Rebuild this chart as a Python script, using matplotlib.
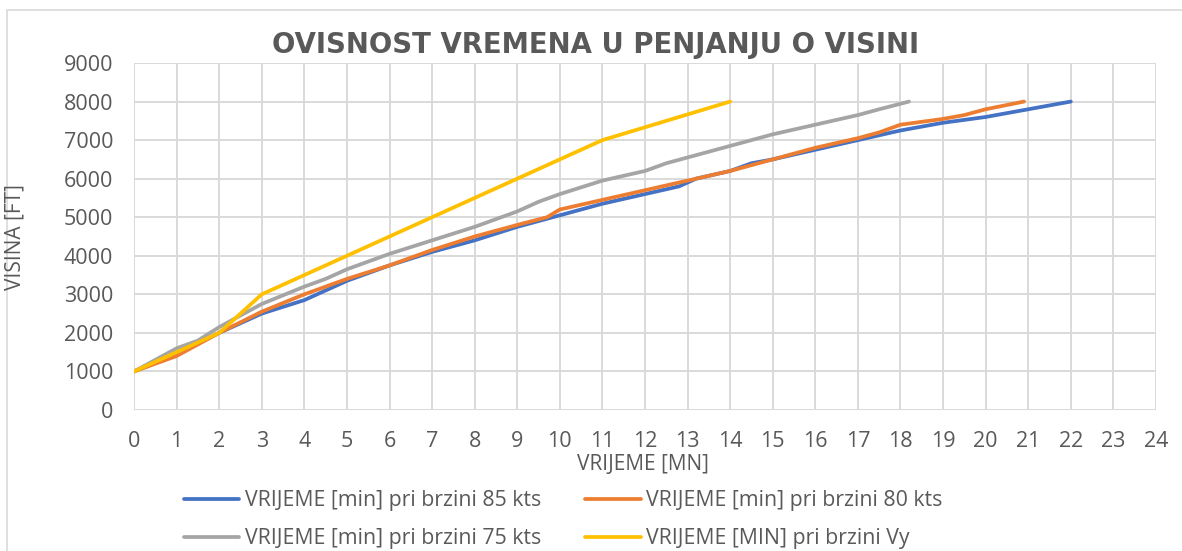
import matplotlib.pyplot as plt
from matplotlib.patches import Rectangle

# vrijeme [min] -> visina [ft]
t85 = [0, 1, 2, 3, 4, 5, 6, 7, 8, 9, 10, 11, 12, 12.8, 13.2, 14, 14.5, 15, 16, 17, 18, 19, 20, 21, 22]
h85 = [1000, 1450, 2000, 2500, 2850, 3350, 3750, 4100, 4400, 4750, 5050, 5350, 5600, 5800, 6000, 6200, 6400, 6500, 6750, 7000, 7250, 7450, 7600, 7800, 8000]

t80 = [0, 1, 2, 3, 4, 5, 6, 7, 8, 9, 9.7, 10, 11, 12, 13, 14, 15, 16, 17, 17.5, 18, 19, 19.5, 20, 20.9]
h80 = [1000, 1400, 2000, 2550, 3000, 3400, 3750, 4150, 4500, 4800, 5000, 5200, 5450, 5700, 5950, 6200, 6500, 6800, 7050, 7200, 7400, 7550, 7650, 7800, 8000]

t75 = [0, 1, 1.5, 2, 3, 4, 4.5, 5, 6, 7, 8, 9, 9.5, 10, 11, 12, 12.5, 13, 14, 14.5, 15, 16, 17, 17.5, 18.2]
h75 = [1000, 1600, 1800, 2150, 2750, 3200, 3400, 3650, 4050, 4400, 4750, 5150, 5400, 5600, 5950, 6200, 6400, 6550, 6850, 7000, 7150, 7400, 7650, 7800, 8000]

tvy = [0, 1, 2, 3, 11, 14]
hvy = [1000, 1500, 2000, 3000, 7000, 8000]

labels = ['VRIJEME [min] pri brzini 85 kts', 'VRIJEME [min] pri brzini 80 kts',
          'VRIJEME [min] pri brzini 75 kts', 'VRIJEME [MIN] pri brzini Vy']
colors = ['#4472C4', '#ED7D31', '#A5A5A5', '#FFC000']

txt = '#595959'
plt.rcParams['font.family'] = ['Open Sans', 'DejaVu Sans']

W, H = 1182, 551
fig = plt.figure(figsize=(W / 100, H / 100), dpi=100)
# okvir grafikona (desni rub izvan slike)
fig.patches.append(Rectangle((7 / W, -0.1), 1.2, 1.1 - 10 / H, transform=fig.transFigure,
                             fill=False, edgecolor='#d9d9d9', linewidth=1.2))
ax = fig.add_axes([134 / W, 141 / H, 1022 / W, 347 / H])

lines = []
for t, h, c, l in zip([t85, t80, t75, tvy], [h85, h80, h75, hvy], colors, labels):
    ln, = ax.plot(t, h, color=c, linewidth=2.7, label=l, solid_capstyle='round')
    lines.append(ln)

ax.set_xlim(0, 24)
ax.set_ylim(0, 9000)
ax.set_xticks(range(0, 25))
ax.set_yticks(range(0, 9001, 1000))
ax.grid(True, color='#d9d9d9', linewidth=1.4)
ax.set_axisbelow(True)
for s in ax.spines.values():
    s.set_visible(False)
ax.tick_params(length=0, labelsize=15.5, colors=txt)
ax.tick_params(axis='y', pad=15)
ax.tick_params(axis='x', pad=15)

fig.text(643 / W, 1 - 465 / H, 'VRIJEME [MN]', ha='center', va='center', fontsize=15, color=txt)
fig.text(15 / W, 1 - 237 / H, 'VISINA [FT]', ha='center', va='center', rotation=90,
         fontsize=15, color=txt)
fig.text(596 / W, 1 - 45 / H, 'OVISNOST VREMENA U PENJANJU O VISINI', ha='center', va='center',
         fontsize=19.8, fontweight='bold', color=txt, family='DejaVu Sans')

# redoslijed: stupci se pune prvi
order = [0, 2, 1, 3]
fig.legend([lines[i] for i in order], [labels[i] for i in order], loc='upper left',
           bbox_to_anchor=(184 / W, 1 - 490 / H), ncol=2, frameon=False, fontsize=15.3,
           labelcolor=txt, handlelength=2.6, columnspacing=2.1, handletextpad=0.25,
           labelspacing=0.82, borderpad=0, borderaxespad=0)

fig.savefig('out.png', dpi=100)
